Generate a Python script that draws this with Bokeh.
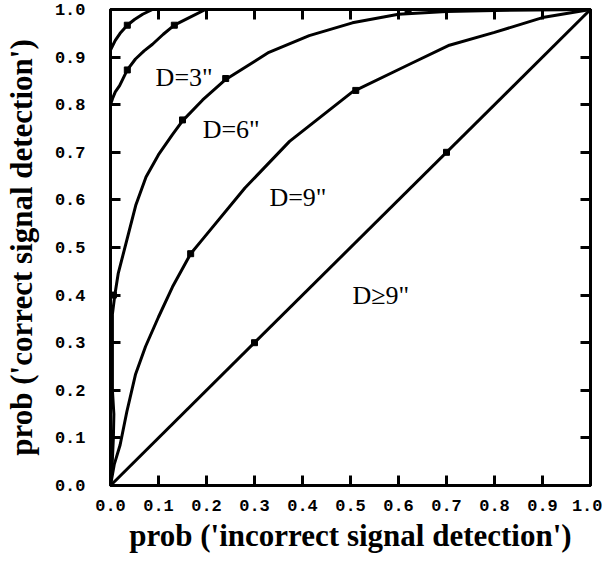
from bokeh.plotting import figure
from bokeh.models import Range1d, FixedTicker, LinearAxis, ColumnDataSource
from bokeh.core.properties import value
from bokeh.embed import file_html
from bokeh.resources import INLINE

# ---- data ----
tick_values = [0.0, 0.1, 0.2, 0.3, 0.4, 0.5, 0.6, 0.7, 0.8, 0.9, 1.0]
tick_labels = ["0.0", "0.1", "0.2", "0.3", "0.4", "0.5", "0.6", "0.7", "0.8", "0.9", "1.0"]

curve_a_x = [0.0, 0.0, 0.01, 0.02, 0.035, 0.05, 0.067, 0.0875, 1.0]
curve_a_y = [0.0, 0.915, 0.935, 0.95, 0.967, 0.979, 0.99, 1.0, 1.0]

curve_b_x = [0.0, 0.0, 0.005, 0.01, 0.019, 0.035, 0.052, 0.07, 0.0875, 0.11, 0.133, 0.164, 0.198, 1.0]
curve_b_y = [0.0, 0.80, 0.815, 0.827, 0.84, 0.873, 0.896, 0.913, 0.927, 0.948, 0.967, 0.983, 1.0, 1.0]

curve_c_x = [0.0, 0.003, 0.006, 0.007, 0.004, 0.004, 0.009, 0.016, 0.0285, 0.053, 0.074, 0.1, 0.129, 0.15,
             0.192, 0.24, 0.33, 0.414, 0.504, 0.6, 0.7, 0.8, 1.0]
curve_c_y = [0.0, 0.035, 0.10, 0.15, 0.20, 0.36, 0.40, 0.445, 0.494, 0.59, 0.648, 0.695, 0.737, 0.766,
             0.81, 0.853, 0.91, 0.945, 0.972, 0.99, 0.996, 0.998, 1.0]

curve_d_x = [0.0, 0.008, 0.02, 0.034, 0.052, 0.073, 0.1, 0.129, 0.167, 0.19, 0.28, 0.373, 0.504,
             0.623, 0.706, 0.8, 0.9, 1.0]
curve_d_y = [0.0, 0.045, 0.085, 0.155, 0.233, 0.292, 0.354, 0.417, 0.487, 0.515, 0.625, 0.723, 0.827,
             0.885, 0.925, 0.952, 0.983, 1.0]

diag_x = [0.0, 1.0]
diag_y = [0.0, 1.0]

marker_x = [0.035, 0.035, 0.133, 0.006, 0.15, 0.24, 0.62, 0.167, 0.511, 0.3, 0.7, 0.0, 1.0]
marker_y = [0.967, 0.873, 0.967, 0.40, 0.768, 0.855, 0.997, 0.487, 0.83, 0.3, 0.7, 0.0, 1.0]

label_text = ['D=3"', 'D=6"', 'D=9"', 'D\u22659"']
label_x = [0.094, 0.192, 0.331, 0.504]
label_y = [0.858, 0.748, 0.604, 0.40]

x_title = "prob ('incorrect signal detection')"
y_title = "prob ('correct signal detection')"

# ---- figure ----
p = figure(width=602, height=555, x_range=Range1d(0, 1), y_range=Range1d(0, 1),
           output_backend="svg", toolbar_location=None,
           min_border_left=110, min_border_top=9, min_border_right=12, min_border_bottom=66)
p.background_fill_color = "white"
p.border_fill_color = "white"
p.outline_line_color = "black"
p.outline_line_width = 3
p.xgrid.visible = False
p.ygrid.visible = False

overrides = {v: s for v, s in zip(tick_values, tick_labels)}
blank = {v: "" for v in tick_values}


def style_axis(ax, labels=True):
    ax.ticker = FixedTicker(ticks=tick_values)
    ax.minor_tick_line_color = None
    ax.major_tick_in = 10
    ax.major_tick_out = 0
    ax.major_tick_line_width = 3
    ax.major_tick_line_color = "black"
    ax.axis_line_width = 3
    ax.axis_line_color = "black"
    if labels:
        ax.major_label_overrides = overrides
        ax.major_label_text_font = "Liberation Mono"
        ax.major_label_text_font_style = "bold"
        ax.major_label_text_font_size = "17px"
        ax.major_label_text_color = "black"
        ax.axis_label_text_font = "Liberation Serif"
        ax.axis_label_text_font_style = "bold"
        ax.axis_label_text_font_size = "31px"
        ax.axis_label_text_color = "black"
    else:
        ax.major_label_overrides = blank
        ax.major_label_standoff = 0


style_axis(p.xaxis[0])
style_axis(p.yaxis[0])
p.xaxis[0].axis_label = x_title
p.yaxis[0].axis_label = y_title
p.xaxis[0].major_label_standoff = 14
p.yaxis[0].major_label_standoff = 25
p.xaxis[0].axis_label_standoff = 4
p.yaxis[0].axis_label_standoff = 13

top_ax = LinearAxis()
right_ax = LinearAxis()
style_axis(top_ax, labels=False)
style_axis(right_ax, labels=False)
p.add_layout(top_ax, "above")
p.add_layout(right_ax, "right")

for xs, ys in [(curve_a_x, curve_a_y), (curve_b_x, curve_b_y), (curve_c_x, curve_c_y),
               (curve_d_x, curve_d_y), (diag_x, diag_y)]:
    p.line(xs, ys, line_color="black", line_width=3)

p.scatter(marker_x, marker_y, marker="square", size=6, fill_color="black", line_color="black")

src = ColumnDataSource(dict(x=label_x, y=label_y, t=label_text))
p.text(x="x", y="y", text="t", source=src, text_font=value("Liberation Serif"),
       text_font_size="26px", text_color="black", text_align="left", text_baseline="alphabetic")

open("out.html", "w").write(file_html(p, INLINE))
